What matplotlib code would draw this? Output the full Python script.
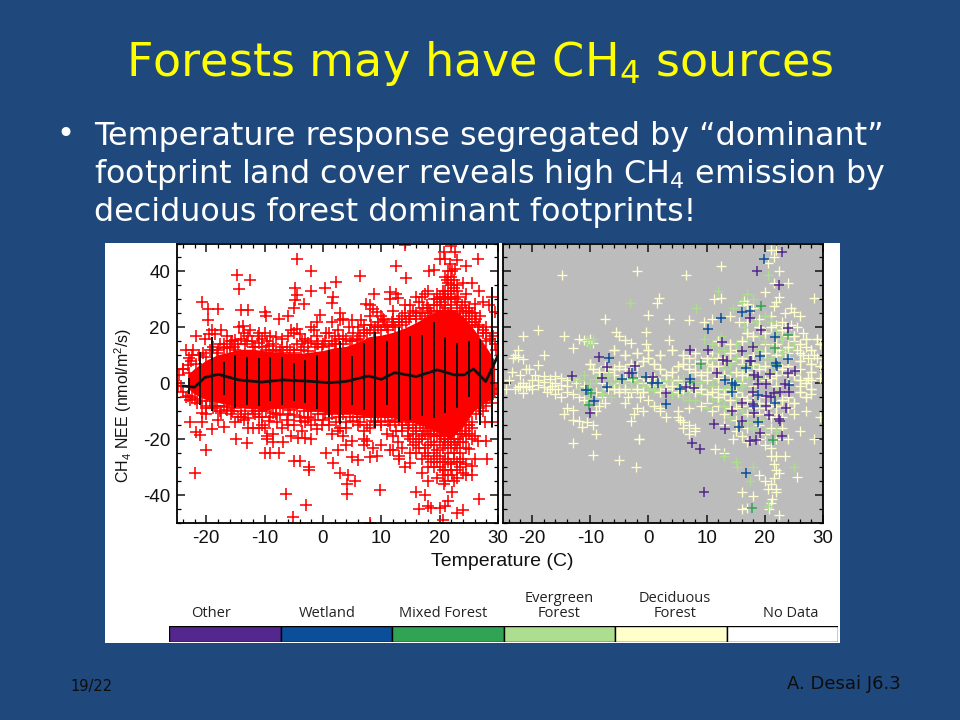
import numpy as np
import matplotlib
matplotlib.use("Agg")
import matplotlib.pyplot as plt
from matplotlib.patches import Rectangle
from matplotlib.ticker import MultipleLocator

# values
bin_temp = [-23, -21, -19, -17, -15, -13, -11, -9, -7, -5, -3, -1, 1, 3, 5, 7, 9, 11, 13, 15, 17, 19, 21, 23, 25, 27, 29]
bin_high = [1.8, 11.3, 16.4, 7.7, 10, 9.3, 9, 9.3, 9.3, 7.4, 8.3, 10, 12, 15.2, 9.8, 14.5, 18.5, 15.2, 20.2, 17, 17.3, 21.8, 16.7, 14.3, 15, 16, 34.5]
bin_low = [-4, -7.7, -10, -4.2, -9, -7.7, -8.3, -6.5, -7.7, -6.5, -7, -9.3, -12, -14.6, -7.7, -9.5, -16, -7.7, -13.7, -13, -11.7, -12.3, -10.7, -9, -4.8, -15, -15.5]

mean_temp = [-23.9, -22, -20.2, -17.9, -14.5, -10.5, -7, -3, 1, 3.8, 7.8, 10, 12.3, 16, 19.6, 22.5, 24.2, 25.8, 27.9, 29.9]
mean_nee = [-1, -1.4, 2.1, 3.2, 1.2, 0.4, 1.2, 0.8, 0.2, 0.6, 2.6, 1.4, 3.8, 2.4, 4.8, 3, 3, 5.1, 0.6, 9.5]

core_temp = [-23, -22, -20, -18, -16, -14, -12, -10, -8, -6, -4, -2, 0, 2, 4, 6, 8, 10, 12, 14, 16, 18, 20, 22, 24, 26, 28, 29.5]
core_high = [3, 5, 8, 10, 11, 12, 12, 11.5, 11, 10.5, 10.5, 11, 11.5, 12.5, 13, 14.5, 16.5, 17, 18, 19.5, 21.5, 24, 26, 26.5, 24, 19, 13, 8]
core_low = [-2, -4, -6, -7, -8, -9, -9, -10, -9, -9, -9, -10, -10.5, -11, -11, -11.5, -12, -12, -12.5, -13.5, -14.5, -16, -18, -20, -16, -10, -7, -5]

red_points = [
    (-24.6, 3), (-24.3, -1), (-24, 5), (-23.5, -5), (-23, 3.5), (-22.8, -6), (-23, 9), (-22.5, 10), (-22.3, 12), (-22, -5.5),
    (-22.7, -14), (-21.8, -17.5), (-21, -18.5), (-20.8, -14), (-20.7, -10.5), (-22, -32), (-20, -24), (-21.7, 17), (-20.7, 29.2), (-19.7, 26.4),
    (-18, 26.4), (-19.7, 22.6), (-19, 19), (-19.5, 17.5), (-18.5, 17.5), (-19, -16.5), (-17.5, -10.5), (-17, -15.7), (-18, 12), (-17, 14),
    (-16, 12.5), (-15.5, 15), (-14.8, 38.7), (-14.4, 33.7), (-12.5, 37.1), (-14.1, 26.2), (-12.8, 26.2), (-14.3, 20), (-13.5, 18), (-12.5, 19),
    (-14.9, -20), (-13.5, -13), (-13, -21.5), (-14, -12), (-12, -16), (-11, -16), (-10.5, -15), (-15.5, -10), (-16.5, -8.5), (-15, 15.5),
    (-11, 18), (-10.5, 16), (-10, 18), (-9.5, 15), (-9, 17), (-8.5, 14), (-8, 16.5), (-10, 25.5), (-9.7, 24), (-7.5, 23),
    (-6, 24), (-5.5, 19), (-5, 18), (-4.5, 19.5), (-4.5, 44.4), (-2, 40), (-2, 33), (-4.7, 34), (-4.5, 31.5), (-4.7, 29.8),
    (-3.2, 28.5), (-4.9, 27), (-1, 22), (-2, 20), (-1.5, 19), (-3, 16), (-3.5, 15), (-2.5, 14.5), (-0.5, 24.5), (0.4, 34.2),
    (2.2, 36.3), (1.7, 31), (1.5, 28.8), (1.5, 22), (3, 25), (3.5, 23), (3, 22.5), (5, 22.5), (6.5, 22.5), (7, 21),
    (1, 18), (2, 17), (3.5, 17), (-9.5, -19), (-9.5, -20), (-8.5, -18), (-8.5, -21), (-10, -25), (-9, -25), (-7.5, -25),
    (-6.8, -21), (-7, -16), (-6, -15), (-5.5, -19), (-5, -27.7), (-4, -27.7), (-4.2, -19.5), (-3, -19.5), (-3, -14), (-2, -15),
    (-2, -20), (-2.3, -30), (-2.4, -31), (-1, -16.5), (0.6, -25), (1.8, -28.5), (2.5, -24), (3, -32), (4.3, -33), (4.2, -36),
    (5.5, -35), (5, -26.5), (6, -27.5), (5, -20.5), (4, -22), (7, -20), (7, -22), (7.5, -20.5), (8.5, -23), (8, -26.5),
    (9.2, -26), (10, -22), (9.7, -38.2), (4.2, -39.8), (-6.3, -39.8), (-5.2, -48), (-2.9, -43.6), (8, -50), (11.5, -24), (12, -24),
    (13, -26), (13, -27), (14, -30), (15, -28.5), (14.5, -19), (15.5, -22), (16, -25), (3, -16), (2.5, -17), (10, -15),
    (11.5, -15), (12.5, -17), (13.5, -17), (6.4, 38.5), (7.3, 28.5), (8, 28), (8.5, 26.5), (9.2, 25.5), (8.8, 32), (11.5, 32.5),
    (11.5, 30), (12.6, 32), (12.8, 30.5), (12.6, 41.9), (14.2, 37.5), (14.1, 49.4), (13.5, 24), (14, 25), (12, 23), (10.5, 22.5),
    (9, 20), (9.5, 22), (10.3, 23), (11, 20), (12, 21), (13, 22), (15, 28), (16, 25), (16.5, 29), (17, 31),
    (17.5, 32), (18, 27), (16, 23), (17, 25), (18, 24), (15, 24), (19, 30), (19.5, 32), (18.2, 40.2), (19, 40.5),
    (20, 44.5), (21, 44.5), (20.8, 47), (22, 49), (22.6, 47), (23, 44), (24.5, 42), (21, 38), (21.5, 40), (22.2, 40),
    (21.5, 36), (22, 35), (22.5, 37), (23, 33), (24, 36), (24.5, 32), (21, 30), (22, 31), (23, 29), (20, 28),
    (20.5, 26), (21, 27), (22, 28), (23.5, 26), (24.5, 26), (25, 27), (26, 25), (27, 24), (25.6, 36), (26.5, 44.3),
    (26.8, 33), (26, 28.5), (27.5, 29), (28.5, 28), (29, 31), (29.5, 25.5), (28, 20), (29, 18), (29.5, 14), (28, 15),
    (26.5, 20), (27.5, 18), (25, 22), (26, 15), (-20, -9), (-18.5, -8), (-12, -10), (-11, -12), (-9, -12), (-8, -11),
    (-6, -11), (-4, -12), (-2.5, -12), (0, -13), (1, -15), (4, -14), (6, -15), (7, -17), (8, -16), (9, -14),
    (16, -17), (17, -19), (18, -18), (18.5, -21), (17.5, -23), (16.5, -20), (19, -22), (20, -21), (21, -22), (22, -23),
    (21.5, -25), (22.5, -27), (23.5, -25), (24.5, -23), (23.5, -21), (24.5, -19), (25.5, -16), (26, -19), (20, -26), (19, -27),
    (18, -30), (19, -30), (17, -32), (18, -35), (19.5, -34), (20.5, -33), (20.7, -36), (21, -31), (22, -31), (23, -31),
    (24, -32), (24.5, -33), (25.5, -33), (25.5, -29.5), (23.5, -28), (22.5, -35), (22.2, -39), (16, -39), (17.5, -40), (18, -44),
    (16.5, -45), (18.5, -44.5), (20, -44.5), (21, -44), (21.5, -42), (23, -46.5), (24, -45.5), (20.5, -49), (26.8, -41.5), (26.5, -20.5),
    (28, -20.5), (28.2, -27), (27.8, -14), (29, -14), (27.5, -10), (29, -7), (25, -23.5), (26, -27), (-15, 12), (-13, 15),
    (-12, 13), (-7, 13), (-5, 12), (-1, 14), (0, 14), (2, 14), (5, 15), (6, 16), (7, 18), (8, 19),
]

# crowded rim of the red cloud, above the solid part
red_rim_high = [
    (-24, 5), (-23.2, 6.5), (-22.6, 8), (-21.8, 7), (-21.2, 10), (-20.6, 11), (-20, 9.5), (-19.4, 12), (-18.8, 13), (-18.2, 11),
    (-17.6, 14), (-17, 12.5), (-16.4, 13), (-15.8, 15), (-15.2, 13), (-14.6, 14), (-14, 16), (-13.4, 14), (-12.8, 17), (-12.2, 15),
    (-11.6, 13), (-11, 14.5), (-10.4, 13), (-9.8, 12), (-9.2, 13.5), (-8.6, 12), (-8, 11.5), (-7.4, 12), (-6.8, 11), (-6.2, 13),
    (-5.6, 12), (-5, 11), (-4.4, 14), (-3.8, 12), (-3.2, 13), (-2.6, 11.5), (-2, 15), (-1.4, 13), (-0.8, 14), (-0.2, 13),
    (0.4, 15), (1, 13.5), (1.6, 15), (2.2, 14), (2.8, 16), (3.4, 14), (4, 16), (4.6, 15), (5.2, 18), (5.8, 15.5),
    (6.4, 17), (7, 19), (7.6, 18), (8.2, 21), (8.8, 18), (9.4, 20), (10, 19), (10.6, 21), (11.2, 19), (11.8, 22),
    (12.4, 20), (13, 23), (13.6, 21), (14.2, 22), (14.8, 23), (15.4, 26), (16, 24), (16.6, 25), (17.2, 27), (17.8, 28),
    (18.4, 26), (19, 28), (19.6, 30), (20.2, 29), (20.8, 31), (21.4, 30), (22, 33), (22.6, 30), (23.2, 31), (23.8, 28),
    (24.4, 29), (25, 26), (25.6, 25), (26.2, 23), (26.8, 21), (27.4, 19), (28, 18), (28.6, 16), (29.2, 17), (29.7, 12),
    (-16.5, 17), (-13.7, 20.5), (-11.2, 17), (-7, 16), (-6, 17), (-4, 17.5), (-1, 17), (0.5, 18), (2.5, 19), (4.5, 20),
    (6, 20), (8, 24), (10, 24), (12, 26), (14, 28), (16, 31), (18, 33), (-17.5, 19), (-20.2, 16), (-23.5, 12),
]
# and below it
red_rim_low = [
    (-24.8, -1), (-24, -3), (-23.2, -4.5), (-22.4, -5), (-21.6, -7), (-20.8, -6.5), (-20, -8), (-19.4, -6.5), (-18.8, -9), (-18.2, -8),
    (-17.6, -10), (-17, -8), (-16.4, -9.5), (-15.8, -11), (-15.2, -9), (-14.6, -12), (-14, -10), (-13.4, -11), (-12.8, -12.5), (-12.2, -9),
    (-11.6, -11), (-11, -10), (-10.4, -12), (-9.8, -10), (-9.2, -13.5), (-8.6, -10.5), (-8, -9), (-7.4, -11.5), (-6.8, -9), (-6.2, -13),
    (-5.6, -9.5), (-5, -11.5), (-4.4, -9), (-3.8, -13.5), (-3.2, -10), (-2.6, -12.5), (-2, -10), (-1.4, -13), (-0.8, -11), (-0.2, -15),
    (0.4, -11), (1, -12.5), (1.6, -11), (2.2, -14), (2.8, -12), (3.4, -11), (4, -16), (4.6, -12), (5.2, -13.5), (5.8, -12),
    (6.4, -14), (7, -12), (7.6, -15), (8.2, -12), (8.8, -13.5), (9.4, -12), (10, -14), (10.6, -12), (11.2, -13.5), (11.8, -12),
    (12.4, -14), (13, -13), (13.6, -15), (14.2, -13), (14.8, -15), (15.4, -14), (16, -16), (16.6, -15), (17.2, -17), (17.8, -16),
    (18.4, -18), (19, -17), (19.6, -19), (20.2, -19), (20.8, -20), (21.4, -20), (22, -21), (22.6, -22), (23.2, -20), (23.8, -18),
    (24.4, -17), (25, -15), (25.6, -14), (26.2, -11), (26.8, -9), (27.4, -7), (28, -8), (28.6, -5), (29.2, -4), (29.7, -2),
    (-20, -11), (-15, -14), (-10, -16), (-5, -15), (-18, -13), (-12.8, -16), (-7.8, -14), (-3.5, -17), (1.5, -18), (3.5, -19),
]
# the two crowded arms near 20 C
red_arm_points = [
    (17, 20), (17.5, 23), (18, 21), (18.5, 25), (19, 22), (19.5, 26), (20, 23), (20.5, 24), (21, 28), (21.5, 25),
    (22, 26), (22.5, 24), (23, 27), (23.5, 23), (24, 25), (24.5, 23), (25, 24), (25.5, 21), (26, 22), (26.5, 17),
    (20, 31), (20.5, 33), (21, 33), (21.5, 32), (22, 38), (22.5, 34), (23, 35), (21.2, 37), (22.6, 41), (21.8, 42.5),
    (17, -20), (17.5, -18), (18, -22), (18.5, -16), (19, -19), (19.5, -24), (20, -18), (20.5, -23), (21, -19), (21.5, -21),
    (22, -18), (22.5, -20), (23, -23), (23.5, -18), (24, -21), (24.5, -15), (25, -18), (25.5, -20), (20.5, -28), (21, -27),
    (21.5, -28), (22, -29), (22.5, -25), (23, -28), (23.5, -30), (24, -27), (24.5, -29), (20, -30), (19.5, -28), (19, -25),
    (20.5, -31), (21.5, -33), (22.2, -33), (23, -34), (21, -35), (18, -26), (18.5, -28), (17, -27), (17.5, -25), (16.5, -23),
    (15.5, -18), (15, -20), (16, -21), (14.5, -16), (13.5, -14), (12, -19), (11, -18), (12.8, -21), (13.5, -23), (15, -25),
]

# right panel, one list per land cover class
other_points = [
    (23, 47), (18.6, 40), (22.5, 35.3), (17.4, 23.5), (19.3, 19), (24, 19.6), (12.6, 14.6), (7.1, 12), (10.2, 12), (16, 11.6),
    (17.9, 13), (-8.5, 9.5), (-7.2, 5.7), (-13.1, 2.7), (-8, 2), (-2.3, 6.2), (-3.3, 3.6), (0.7, 2.1), (3, -3.6), (6.5, -1.2),
    (7.8, -1.8), (13.5, 7.8), (12.8, 8.3), (11.8, 3.8), (18.2, 3), (18.8, 2.4), (18.9, -0.4), (20.2, -0.2), (20.9, 3.2), (23.9, 3.6),
    (25.2, 4.4), (23.5, -0.2), (24.2, -3.3), (22.6, -3.3), (21.6, -3.6), (20.2, -4.5), (21, -4.8), (17.9, -3.3), (16, -7.1), (17.9, -7.5),
    (18.2, -10.7), (14.3, -9.8), (20.2, -8.3), (20.8, -11.3), (22.5, -12.7), (22.6, -13.6), (23.6, -8.7), (-10.1, -10.5), (11.3, -14.5), (13.1, -16.3),
    (16, -13.5), (17.5, -20.8), (18.5, -20.2), (19.2, -17.9), (23, -19), (7.4, -21.2), (8.8, -23.5), (9.5, -38.8), (17.5, 7.8),
]
wetland_points = [
    (19.9, 44.6), (16, 25.6), (17.5, 26), (12.4, 23.2), (10.2, 19.5), (21.8, 16.7), (19.2, 9.9), (17.6, 7.8), (16.8, 5.4), (22, 7.1),
    (22.1, 6), (24.0, 8.5), (-6.8, 8.9), (-4.5, 1.4), (-7.2, -1.2), (-10.7, -2.4), (-9.4, -6.2), (-2.9, 3.6), (-0.5, 2.1), (0.6, 0),
    (1.7, 0), (5.4, -2), (7.1, 1.4), (3.1, -7.5), (13.1, 1.2), (14.3, 0), (14.8, -0.8), (14.4, -3.3), (18.8, -4.2), (21.8, -7.1),
    (18.2, -8.3), (24.2, -0.8), (18.9, -13.8), (15.6, -15.5), (16.7, -32),
]
mixed_points = [
    (19.3, 27.7), (24, 17.3), (21.8, 12.7), (9, 6.9), (-2.6, 1.8), (-10.4, -2.4), (-9.8, -3.6), (-10.2, -7.7), (7.1, 0.6), (17.8, -44.6),
    (21.4, -20.2), (22, 6.5),
]
evergreen_points = [
    (-3.2, 28.7), (8.1, 27), (20.5, 38.6), (12, 33), (17, 32), (18, 30), (16, 29), (14.5, 27), (20, 24), (21, 22),
    (-10.5, 15.5), (-10, 14), (-9.5, 16), (-13, 2), (-12, 1), (-11, 3), (-10, 0), (-9, 1.5), (-8, 2.5), (-7, 3),
    (-6.5, 0), (-6, -1), (-5, 1), (-4, 0), (-3, -1.5), (-2, 0.5), (-1, -1), (0, -2), (1, -2.5), (2, -1.5),
    (3, 1), (4, 0), (5, -1), (6, 1.5), (7, -3), (8, -1), (9, 0.5), (10, -2), (11, -1), (12, 1),
    (13, -2.5), (14, 3), (15, 1), (10, 5), (11, 8), (12, 11), (13, 5), (14, 7), (15, 9), (16, 12),
    (17, 10), (18, 14), (19, 17), (20, 15), (21, 13), (22, 18), (23, 16), (16, 5), (18, 6), (20, 8),
    (12, -6), (13, -8), (14, -12), (15, -5), (16, -10), (17, -14), (18, -16), (19, -13), (20, -17), (22, -17),
    (13, -26), (15, -28), (15.3, -30), (17.5, -35), (18, -30), (20.5, -44), (25, -30), (-8, -4), (-6.5, -5), (4, -4),
    (6, -5), (8, -6), (10, -9), (-10, -5), (-12, -2), (24, 12), (25, 14), (22, -3), (21, 4), (19, 2),
    (17, 2), (15, -2), (16.5, 20), (18.5, 22), (12.5, 17), (9.5, 16), (11, 14), (13, 12), (15, 14), (17, 16),
    (19, 12), (21, 9), (23, 11), (14, -1), (16, -1), (18, -2), (11, -5), (9, -4), (7, -6), (5, -4),
]
deciduous_points = [
    (-14.8, 38.9), (-2, 40.2), (6.5, 38.8), (12.5, 42), (22.5, 40), (21, 47.5), (22, 47.8), (21.5, 45), (20.5, 43), (21.5, 36),
    (20, 32.5), (24, 36), (1.8, 30.5), (1.5, 28.8), (11.2, 30), (12.5, 30.5), (16, 28), (17, 28.5), (18, 27), (16.5, 29.5),
    (28.5, 30.5), (22.5, 31), (22, 29), (21.5, 27.5), (24.5, 27), (25, 25.5), (23.5, 25), (0, 24.5), (-7.5, 23), (3.5, 23),
    (7, 22.5), (9.5, 22), (11, 23), (14, 24), (15.5, 22), (17, 22), (19, 23), (21, 24), (23, 22), (26, 24),
    (-19, 19), (-21.5, 17), (-14.5, 17), (-5.5, 18.5), (-5, 17), (-4, 15.5), (-3, 14.5), (-0.5, 18.5), (-0.5, 14), (3.5, 15.5),
    (-12, 16), (-11, 15.5), (-10.5, 15), (-10, 16), (-9.5, 14.5), (-13, 12.5), (-22.5, 12), (-23.3, 9), (-23, 10), (-22.5, 9.5),
    (-21.5, 8.5), (-18, 10), (-19, 6.5), (-20.5, 5), (-23.5, 4), (-22, 3), (-21, 5), (-19.5, 3), (-20, 1), (-21.5, 0),
    (-22.5, -1.5), (-24.5, -2), (-21.5, -3.5), (-20.5, -1), (-19, -0.5), (-18, -1.5), (-17.5, -3), (-16.5, -1), (-16, -4), (-15.5, -2),
    (-15, -5), (-14, -3), (-14.5, -11), (-14, -9), (-13, -9.5), (-13, -13), (-12, -13.5), (-11.5, -15.5), (-10.5, -14), (-9.5, -15),
    (-9, -18), (-13, -21.5), (-9.5, -25.5), (-5, -27.5), (-2.2, -29.8), (-1.7, -20), (-3, -13.5), (-2.5, -11), (-2, -9), (-1, -10),
    (-4, -7), (-3.5, -5), (-3, -3), (-1.5, -5), (0, -6), (1, -8), (2, -9), (-9, -10), (-8.5, -8), (-7.5, -7),
    (-11, -6), (-12, -5), (-13, -4), (-11, -1), (-12.5, 0), (-14, 1), (-15, 2), (-16, 2.5), (-17, 1.5), (-18, 2.5),
    (-10, 7), (-9.5, 5), (-8.5, 4), (-7.5, 6), (-6, 5), (-5, 6), (-4, 5), (-3, 7), (-2, 6), (-1, 8),
    (0, 9), (1, 7), (2, 5), (3, 3), (4, 4), (5, 6), (6, 7), (7, 5), (8, 4), (9, 3),
    (10, 4), (11, 6), (12, 2), (13, 3), (14, 1), (15, 4), (16, 3), (17, 4), (18, 7), (19, 5),
    (20, 6), (21, 2), (22, 3), (23, 5), (24, 6), (25, 3), (26, 1), (27, 0), (27.5, 2), (28, 4),
    (-6, -2), (-5, -3), (-4, -2), (-2, -2), (-1, -3), (0, 1), (1, 2), (2, -3), (3, -2), (4, -1),
    (5, -3), (6, -2), (7, -1), (8, -3), (9, -2), (10, -4), (11, -3), (12, -5), (13, -4), (14, -6),
    (15, -3), (16, -5), (17, -6), (18, -4), (19, -7), (20, -9), (21, -7), (22, -8), (23, -6), (24, -5),
    (25, -7), (26, -3), (27, -5), (28, -2), (-6, 12), (-4, 10), (-2, 11), (0, 12), (2, 10), (4, 12),
    (6, 10), (8, 11), (10, 9), (12, 9), (14, 11), (16, 9), (18, 10), (20, 11), (22, 10), (24, 9),
    (26, 8), (28, 7), (29.5, 6), (12, 15), (14, 14), (16, 15), (18, 17), (20, 18), (22, 14), (24, 13),
    (26, 14), (28, 12), (29.5, 14), (25, 17), (27, 16), (29, 16), (23, 19), (21, 20), (19, 20), (17, 18),
    (2, -10), (3, -12), (5, -12), (6, -14), (7, -15), (8, -16), (5, -10), (7, -9), (9, -8), (11, -10),
    (13, -11), (15, -9), (17, -11), (19, -11), (21, -12), (23, -12), (25, -11), (27, -10), (29.5, -12), (-1.7, -20),
    (5.5, -13), (6, -16), (7, -18), (8, -17), (11.5, -23.5), (13, -25), (14.5, -20), (15, -17), (16, -19), (17, -21),
    (19, -20), (20, -22), (21, -23), (22, -26), (21, -26), (21.5, -29), (22, -31), (22.5, -32), (21.5, -34), (23.5, -26),
    (25.5, -33.5), (19, -33), (20, -35), (21, -36), (20.5, -38), (22, -38), (16, -39), (18, -40.5), (22, -39), (16, -45),
    (17, -44.5), (21, -43), (21.3, -41.5), (20.8, -45), (22.5, -47), (24, -20), (26, -17), (28.5, -20),
    (22, 21), (23.5, 20), (24.5, 21), (25.5, 20), (26.5, 18), (24, 17), (23, 16), (25, 15), (27, 13), (28.5, 10),
    (22.5, 12), (23.5, 11), (25.5, 12), (26.5, 10), (27.5, 9), (29, 9), (24, 3), (26, 5), (28, 1), (29.5, 2),
    (-24, 1), (-23, -2), (-22, -1), (-21, -1.5), (-20, -2), (-19, 1), (-18, 0.5), (-17, -2), (-16, 0), (-15, -0.5),
    (-14, -1), (-13, 2), (-3, 1), (-2, 2), (-1, 0), (0, -1), (1, -1), (2, 0), (3, 0), (4, 1), (5, 1), (6, 0),
    (-8, 0), (-7, -2), (-6, 3), (-5, 0), (-4, 2), (-9, -3), (-10, -3), (-8, -5), (-7, 4), (8, 7),
    (10, 7), (12, 6), (14, 8), (16, 7), (18, 13), (20, 14), (22, 7), (24, 11), (26, 11), (15, 12),
    (13, 8), (11, 11), (9, 8), (7, 9), (10, 1), (12, -2), (14, -2), (16, 0), (18, -1), (20, 1),
    (22, -1), (24, 0), (26, -1), (28, -4), (10, -7), (12, -8), (14, -9), (16, -8), (18, -9), (20, -5),
    (22, -11), (24, -9), (19, -15), (21, -16), (23, -16), (20, -18), (22, -20), (17, -16), (15, -13), (13, -15),
]

panel_ticks_x = [-20, -10, 0, 10, 20, 30]
panel_ticks_y = [-40, -20, 0, 20, 40]

legend_labels = ["Other", "Wetland", "Mixed Forest", "Evergreen\nForest", "Deciduous\nForest", "No Data"]
legend_colors = ["#54278f", "#0b4f9a", "#31a354", "#addd8e", "#ffffcc", "#ffffff"]

slide_blue = "#1f497d"
slide_font = "DejaVu Sans"
chart_font = "Liberation Sans"

plt.rcParams["mathtext.default"] = "regular"
plt.rcParams["axes.unicode_minus"] = False
fig = plt.figure(figsize=(9.6, 7.2), dpi=100, facecolor=slide_blue)


def px_axes(x0, y0, x1, y1):
    return fig.add_axes([x0 / 960, 1 - y1 / 720, (x1 - x0) / 960, (y1 - y0) / 720])


def px_text(x, y, s, **kw):
    return fig.text(x / 960, 1 - y / 720, s, **kw)


# white picture pasted on the slide
fig.add_artist(Rectangle((105 / 960, 1 - 643 / 720), 735 / 960, 400 / 720, zorder=-1,
                         transform=fig.transFigure, facecolor="white", edgecolor="none"))

ax1 = px_axes(177, 243.5, 498, 523)
ax2 = px_axes(503, 243.5, 823, 523)

ax1.fill_between(core_temp, core_low, core_high, facecolor="#ff0000", edgecolor="none", zorder=1)
for pts in (red_points, red_rim_high, red_rim_low, red_arm_points):
    rx, ry = np.array(pts).T
    ax1.plot(rx, ry, "+", color="#ff0000", ms=8, mew=1.15, zorder=2)
ax1.vlines(bin_temp, bin_low, bin_high, color="#111111", lw=1.4, zorder=3)
ax1.plot(mean_temp, mean_nee, color="#111111", lw=2, zorder=4)

ax2.set_facecolor("#bcbcbc")
for pts, col, lw in [(deciduous_points, legend_colors[4], 0.95), (evergreen_points, legend_colors[3], 0.95),
                     (deciduous_points[120:230], legend_colors[4], 0.95), (mixed_points, legend_colors[2], 1.1),
                     (wetland_points, legend_colors[1], 1.1), (other_points, legend_colors[0], 1.1)]:
    px, py = np.array(pts).T
    ax2.plot(px, py, "+", color=col, ms=7.5, mew=lw)

for ax in (ax1, ax2):
    ax.set_xlim(-25, 30)
    ax.set_ylim(-50, 50)
    ax.set_xticks(panel_ticks_x)
    ax.set_yticks(panel_ticks_y)
    ax.xaxis.set_minor_locator(MultipleLocator(2))
    ax.yaxis.set_minor_locator(MultipleLocator(5))
    ax.tick_params(which="major", direction="in", top=True, right=True, length=6, width=1.1)
    ax.tick_params(which="minor", direction="in", top=True, right=True, length=3, width=0.9)
    ax.tick_params(axis="x", which="major", pad=5)
    ax.tick_params(axis="y", which="major", pad=5)
    ax.tick_params(labelsize=13.5, colors="#111111")
    for lab in ax.get_xticklabels() + ax.get_yticklabels():
        lab.set_fontfamily(chart_font)
    for sp in ax.spines.values():
        sp.set_linewidth(1.3)
ax2.tick_params(labelleft=False)

px_text(123, 405, "CH$_4$ NEE (nmol/m$^2$/s)", rotation=90, ha="center", va="center",
        fontsize=11.5, family=chart_font, color="#111111")
px_text(502, 562, "Temperature (C)", ha="center", va="center", fontsize=14,
        family=chart_font, color="#111111")

# land cover key
ax3 = px_axes(169, 626, 838, 642)
ax3.bar(range(len(legend_colors)), [1] * len(legend_colors), width=1, color=legend_colors,
        edgecolor="black", linewidth=1)
ax3.set_xlim(-0.5, 5.5)
ax3.set_ylim(0, 1)
ax3.axis("off")
for i, lab in enumerate(legend_labels):
    px_text(211 + i * 116, 621, lab, ha="center", va="bottom", fontsize=10.5,
            family="Open Sans", color="#222222", linespacing=1.0)

# slide text
px_text(480, 64, "Forests may have CH$_4$ sources", ha="center", va="center", fontsize=33.2,
        family=slide_font, color="#ffff00")
px_text(65, 134, "•", ha="center", va="center", fontsize=22, family=slide_font, color="white")
body_lines = ["Temperature response segregated by “dominant”",
              "footprint land cover reveals high CH$_4$ emission by",
              "deciduous forest dominant footprints!"]
for y, line in zip([136, 174, 212], body_lines):
    px_text(94, y, line, ha="left", va="center", fontsize=22.9, family=slide_font, color="white")
px_text(70, 687, "19/22", ha="left", va="center", fontsize=10.5, family=slide_font, color="#0d0d0d")
px_text(901, 684, "A. Desai J6.3", ha="right", va="center", fontsize=13, family=slide_font, color="#0d0d0d")

fig.savefig("out.png", dpi=100, facecolor=slide_blue)
